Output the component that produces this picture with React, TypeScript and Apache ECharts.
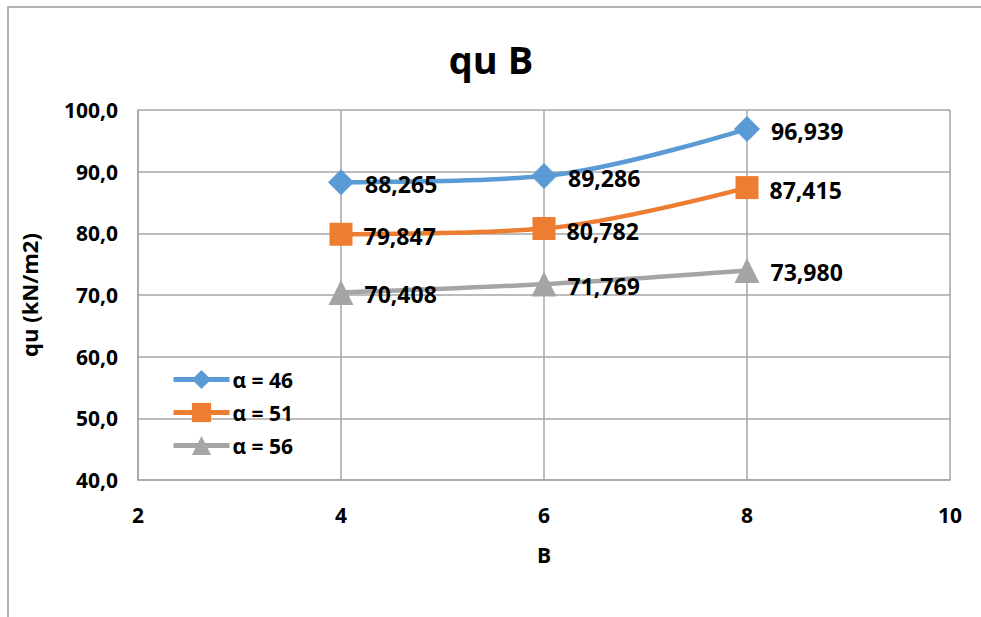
import React, { useEffect, useRef } from "react";
import * as echarts from "echarts";

// Footing width B and bearing capacity qu for each angle α
const B_VALUES = [4, 6, 8];
const QU_ALPHA_46 = [88.265, 89.286, 96.939];
const QU_ALPHA_51 = [79.847, 80.782, 87.415];
const QU_ALPHA_56 = [70.408, 71.769, 73.98];
const SERIES_NAMES = ["α = 46", "α = 51", "α = 56"];

const FONT = "'Open Sans', Lato, sans-serif";
const comma = (v: number, d: number) => v.toFixed(d).replace(".", ",");

export default function App() {
  const ref = useRef<HTMLDivElement>(null);

  useEffect(() => {
    if (!ref.current) return;
    const chart = echarts.init(ref.current, null, { renderer: "svg" });

    const mk = (
      name: string,
      values: number[],
      color: string,
      symbol: string,
      size: number
    ) => ({
      name,
      type: "line",
      data: B_VALUES.map((b, i) => [b, values[i]]),
      smooth: 0.35,
      symbol,
      symbolSize: size,
      lineStyle: { color, width: 4.5 },
      itemStyle: { color },
      label: {
        show: true,
        position: "right",
        distance: 11,
        offset: [0, 2],
        fontFamily: FONT,
        fontWeight: "bold",
        fontSize: 23,
        color: "#000",
        formatter: (p: any) => comma(p.value[1], 3),
      },
    });

    chart.setOption({
      animation: false,
      backgroundColor: "#ffffff",
      title: {
        text: "qu B",
        left: 486,
        textAlign: "center",
        top: 35,
        textStyle: { fontFamily: FONT, fontWeight: "bold", fontSize: 38, color: "#000" },
      },
      graphic: [
        {
          type: "polyline",
          shape: { points: [[8, 640], [8, 7], [1000, 7]] },
          style: { fill: "none", stroke: "#9a9a9a", lineWidth: 1.5 },
          silent: true,
        },
      ],
      grid: { left: 138, right: 31, top: 110, bottom: 137 },
      legend: {
        orient: "vertical",
        left: 166,
        top: 364,
        itemWidth: 56,
        itemHeight: 24,
        itemGap: 12,
        data: SERIES_NAMES,
        lineStyle: { width: 5 },
        textStyle: { fontFamily: FONT, fontWeight: "bold", fontSize: 21, color: "#000", padding: [0, 0, 0, -2] },
      },
      xAxis: {
        type: "value",
        min: 2,
        max: 10,
        interval: 2,
        name: "B",
        nameLocation: "middle",
        nameGap: 64,
        nameTextStyle: { fontFamily: FONT, fontWeight: "bold", fontSize: 21, color: "#000" },
        axisLine: { lineStyle: { color: "#a6a6a6", width: 1.5 } },
        axisTick: { show: false },
        axisLabel: {
          margin: 24,
          fontFamily: FONT,
          fontWeight: "bold",
          fontSize: 21,
          color: "#000",
        },
        splitLine: { show: true, lineStyle: { color: "#a6a6a6", width: 1.5 } },
      },
      yAxis: {
        type: "value",
        min: 40,
        max: 100,
        interval: 10,
        name: "qu (kN/m2)",
        nameLocation: "middle",
        nameGap: 98,
        nameRotate: 90,
        nameTextStyle: { fontFamily: FONT, fontWeight: "bold", fontSize: 22, color: "#000" },
        axisLine: { show: true, lineStyle: { color: "#a6a6a6", width: 1.5 } },
        axisTick: { show: false },
        axisLabel: {
          margin: 20,
          fontFamily: FONT,
          fontWeight: "bold",
          fontSize: 21,
          color: "#000",
          formatter: (v: number) => comma(v, 1),
        },
        splitLine: { show: true, lineStyle: { color: "#a6a6a6", width: 1.5 } },
      },
      series: [
        mk(SERIES_NAMES[0], QU_ALPHA_46, "#5b9bd5", "diamond", 26),
        mk(SERIES_NAMES[1], QU_ALPHA_51, "#ed7d31", "rect", 23),
        mk(SERIES_NAMES[2], QU_ALPHA_56, "#a5a5a5", "triangle", 25),
      ],
    });

    return () => chart.dispose();
  }, []);

  return (
    <div
      ref={ref}
      style={{ position: "absolute", left: 0, top: 0, width: 981, height: 617 }}
    />
  );
}
